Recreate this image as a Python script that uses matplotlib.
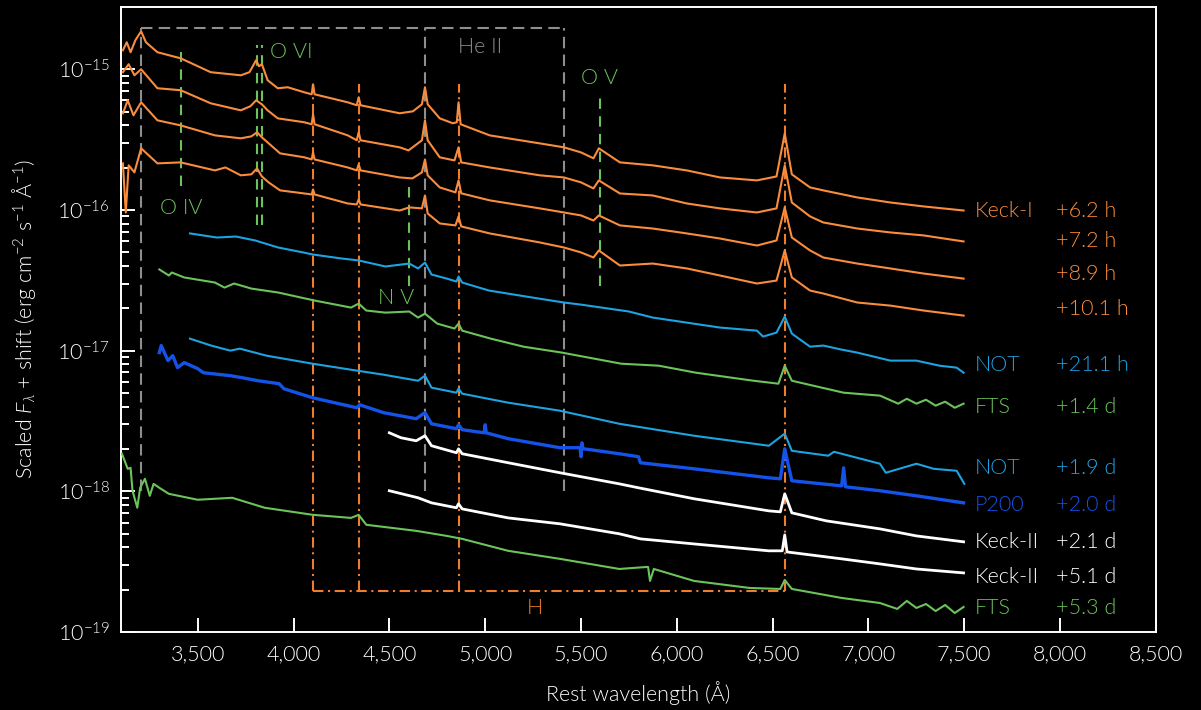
import numpy as np
import matplotlib
matplotlib.use("Agg")
import matplotlib.pyplot as plt
from matplotlib.ticker import FixedLocator, FuncFormatter, NullFormatter

plt.rcParams['font.family'] = ['Lato', 'DejaVu Sans']
plt.rcParams['font.weight'] = 300
plt.rcParams['axes.labelweight'] = 300
plt.rcParams['mathtext.fontset'] = 'custom'
plt.rcParams['mathtext.rm'] = 'Lato:weight=300'
plt.rcParams['mathtext.it'] = 'Lato:italic:weight=300'
plt.rcParams['mathtext.bf'] = 'Lato:bold'

# ---------------- data (rest wavelength in Angstrom, log10 of scaled flux) ----------------
keck1_62h_wl = [3110, 3130, 3150, 3175, 3205, 3230, 3290, 3411, 3568, 3725, 3770, 3805, 3820, 3835, 3865,
                3918, 3970, 4057, 4095, 4102, 4110, 4283, 4330, 4340, 4350, 4554, 4623, 4670, 4686, 4700,
                4763, 4831, 4852, 4861, 4872, 5024, 5285, 5411, 5500, 5565, 5593, 5703, 5874, 6052, 6225,
                6418, 6520, 6563, 6600, 6695, 6764, 6941, 7114, 7287, 7496]
keck1_62h_logf = [-14.865, -14.808, -14.879, -14.794, -14.730, -14.808, -14.879, -14.922, -15.021, -15.043,
                  -15.021, -14.936, -14.979, -14.964, -15.078, -15.135, -15.128, -15.164, -15.178, -15.107,
                  -15.178, -15.235, -15.256, -15.199, -15.256, -15.313, -15.299, -15.249, -15.128, -15.249,
                  -15.349, -15.384, -15.377, -15.235, -15.391, -15.470, -15.527, -15.555, -15.591, -15.633,
                  -15.562, -15.662, -15.683, -15.719, -15.769, -15.790, -15.762, -15.456, -15.747, -15.840,
                  -15.861, -15.911, -15.947, -15.975, -16.004]

keck1_72h_wl = [3110, 3140, 3170, 3205, 3290, 3411, 3568, 3725, 3775, 3805, 3835, 3865, 3918, 4057, 4095,
                4102, 4110, 4283, 4330, 4340, 4350, 4554, 4600, 4670, 4686, 4700, 4763, 4840, 4861, 4875,
                5024, 5285, 5411, 5500, 5565, 5593, 5703, 5874, 6052, 6225, 6418, 6520, 6563, 6600, 6695,
                6764, 6941, 7114, 7287, 7496]
keck1_72h_logf = [-15.021, -14.964, -15.043, -15.000, -15.135, -15.149, -15.242, -15.292, -15.263, -15.221,
                  -15.249, -15.292, -15.349, -15.377, -15.391, -15.320, -15.391, -15.470, -15.505, -15.448,
                  -15.505, -15.555, -15.577, -15.505, -15.363, -15.505, -15.626, -15.648, -15.555, -15.662,
                  -15.698, -15.754, -15.769, -15.804, -15.847, -15.790, -15.883, -15.897, -15.954, -15.989,
                  -16.018, -15.989, -15.683, -15.947, -16.046, -16.089, -16.132, -16.160, -16.181, -16.224]

keck1_89h_wl = [3110, 3135, 3165, 3205, 3290, 3411, 3590, 3725, 3780, 3810, 3835, 3865, 3930, 4057, 4095,
                4102, 4110, 4283, 4330, 4340, 4350, 4554, 4620, 4670, 4686, 4700, 4763, 4845, 4861, 4875,
                5024, 5285, 5411, 5500, 5565, 5593, 5703, 5874, 6052, 6225, 6418, 6520, 6563, 6600, 6695,
                6764, 6941, 7114, 7287, 7496]
keck1_89h_logf = [-15.313, -15.221, -15.327, -15.235, -15.363, -15.399, -15.470, -15.491, -15.477, -15.448,
                  -15.484, -15.520, -15.598, -15.626, -15.641, -15.591, -15.641, -15.698, -15.719, -15.676,
                  -15.719, -15.769, -15.776, -15.733, -15.641, -15.754, -15.840, -15.875, -15.790, -15.882,
                  -15.932, -15.989, -16.018, -16.039, -16.075, -16.039, -16.110, -16.132, -16.167, -16.203,
                  -16.253, -16.217, -15.982, -16.196, -16.288, -16.338, -16.381, -16.416, -16.452, -16.488]

keck1_101h_wl = [3110, 3125, 3140, 3170, 3205, 3290, 3411, 3590, 3645, 3725, 3780, 3810, 3835, 3870, 3930,
                 4057, 4095, 4102, 4110, 4283, 4330, 4340, 4350, 4554, 4604, 4670, 4686, 4700, 4763, 4845,
                 4861, 4875, 5024, 5285, 5411, 5500, 5565, 5593, 5703, 5874, 6052, 6225, 6418, 6520, 6563,
                 6600, 6695, 6764, 6941, 7114, 7287, 7496]
keck1_101h_logf = [-15.669, -16.018, -15.683, -15.733, -15.562, -15.669, -15.662, -15.719, -15.698, -15.754,
                   -15.747, -15.705, -15.762, -15.804, -15.861, -15.883, -15.890, -15.854, -15.890, -15.954,
                   -15.961, -15.925, -15.961, -16.004, -15.982, -15.989, -15.897, -16.025, -16.096, -16.110,
                   -16.046, -16.117, -16.167, -16.231, -16.267, -16.302, -16.338, -16.288, -16.395, -16.381,
                   -16.416, -16.466, -16.523, -16.502, -16.288, -16.480, -16.573, -16.594, -16.658, -16.680,
                   -16.715, -16.751]

not_211h_wl = [3460, 3600, 3700, 3800, 3920, 4050, 4102, 4250, 4340, 4480, 4604, 4650, 4686, 4720, 4800,
               4850, 4861, 4880, 5020, 5280, 5411, 5500, 5750, 5874, 6052, 6225, 6418, 6450, 6520, 6563,
               6600, 6695, 6764, 6860, 6941, 7114, 7250, 7370, 7460, 7496]
not_211h_logf = [-16.167, -16.196, -16.189, -16.217, -16.267, -16.302, -16.317, -16.345, -16.359, -16.402,
                 -16.381, -16.416, -16.374, -16.459, -16.488, -16.509, -16.473, -16.516, -16.573, -16.630,
                 -16.658, -16.673, -16.722, -16.765, -16.801, -16.836, -16.858, -16.900, -16.872, -16.758,
                 -16.879, -16.972, -16.964, -16.993, -17.014, -17.071, -17.071, -17.107, -17.121, -17.157]

fts_14d_wl = [3300, 3350, 3365, 3430, 3590, 3640, 3690, 3780, 3920, 4110, 4300, 4340, 4380, 4480, 4604,
              4650, 4686, 4750, 4840, 4861, 4880, 5030, 5200, 5400, 5710, 5905, 6100, 6400, 6530, 6563,
              6600, 6870, 7060, 7155, 7200, 7250, 7300, 7350, 7400, 7450, 7496]
fts_14d_logf = [-16.423, -16.466, -16.445, -16.480, -16.516, -16.552, -16.523, -16.559, -16.587, -16.644,
                -16.694, -16.666, -16.715, -16.730, -16.722, -16.765, -16.737, -16.808, -16.843, -16.808,
                -16.858, -16.915, -16.972, -17.014, -17.093, -17.107, -17.157, -17.214, -17.235, -17.107,
                -17.214, -17.299, -17.320, -17.377, -17.342, -17.377, -17.349, -17.391, -17.363, -17.406,
                -17.377]

not_19d_wl = [3460, 3570, 3670, 3720, 3860, 4100, 4330, 4470, 4650, 4686, 4720, 4850, 4861, 4880, 5120,
              5390, 5700, 6090, 6480, 6563, 6600, 6790, 6820, 7060, 7090, 7250, 7340, 7460, 7500]
not_19d_logf = [-16.915, -16.964, -17.000, -16.986, -17.036, -17.093, -17.142, -17.171, -17.214, -17.178,
                -17.263, -17.299, -17.270, -17.306, -17.370, -17.427, -17.520, -17.605, -17.676, -17.590,
                -17.712, -17.747, -17.719, -17.804, -17.868, -17.804, -17.840, -17.854, -17.947]

p200_20d_wl = [3300, 3310, 3345, 3370, 3395, 3430, 3500, 3530, 3670, 3730, 3815, 3925, 3950, 4100, 4330,
               4345, 4470, 4640, 4686, 4720, 4850, 4861, 4880, 4995, 5000, 5005, 5120, 5390, 5495, 5500,
               5505, 5510, 5700, 5800, 5810, 6090, 6480, 6540, 6563, 6600, 6860, 6870, 6880, 7060, 7250,
               7496]
p200_20d_logf = [-17.014, -16.964, -17.071, -17.036, -17.121, -17.085, -17.128, -17.157, -17.178, -17.192,
                 -17.214, -17.235, -17.271, -17.335, -17.406, -17.385, -17.441, -17.484, -17.441, -17.520,
                 -17.555, -17.527, -17.562, -17.584, -17.527, -17.584, -17.626, -17.690, -17.690, -17.754,
                 -17.655, -17.697, -17.733, -17.754, -17.797, -17.840, -17.904, -17.911, -17.698, -17.925,
                 -17.961, -17.833, -17.968, -17.996, -18.032, -18.082]

keck2_21d_wl = [4500, 4560, 4640, 4686, 4720, 4850, 4861, 4880, 5120, 5390, 5700, 5800, 6090, 6480, 6540,
                6563, 6600, 6780, 7060, 7250, 7496]
keck2_21d_logf = [-17.584, -17.619, -17.641, -17.605, -17.676, -17.726, -17.698, -17.733, -17.797, -17.868,
                  -17.947, -17.975, -18.053, -18.139, -18.146, -18.018, -18.153, -18.210, -18.267, -18.317,
                  -18.359]

keck2_51d_wl = [4500, 4650, 4720, 4850, 4861, 4880, 5120, 5390, 5700, 5810, 6090, 6480, 6550, 6563, 6575,
                6860, 7060, 7250, 7496]
keck2_51d_logf = [-17.996, -18.046, -18.082, -18.117, -18.089, -18.125, -18.189, -18.231, -18.302, -18.338,
                  -18.374, -18.423, -18.423, -18.310, -18.431, -18.480, -18.516, -18.552, -18.580]

fts_53d_wl = [3105, 3135, 3150, 3160, 3185, 3200, 3225, 3250, 3270, 3300, 3350, 3500, 3680, 3850, 4100,
              4300, 4340, 4380, 4640, 4800, 4880, 5120, 5390, 5700, 5850, 5860, 5880, 6090, 6380, 6540,
              6563, 6600, 6860, 7060, 7150, 7200, 7250, 7300, 7350, 7400, 7450, 7496]
fts_53d_logf = [-17.733, -17.840, -17.833, -17.996, -18.117, -17.975, -17.911, -18.032, -17.947, -17.975,
                -18.018, -18.060, -18.046, -18.117, -18.167, -18.189, -18.167, -18.238, -18.281, -18.317,
                -18.338, -18.423, -18.480, -18.552, -18.537, -18.637, -18.552, -18.637, -18.687, -18.694,
                -18.630, -18.694, -18.758, -18.794, -18.836, -18.779, -18.829, -18.801, -18.851, -18.808,
                -18.865, -18.822]

instruments = ['Keck-I', '', '', '', 'NOT', 'FTS', 'NOT', 'P200', 'Keck-II', 'Keck-II', 'FTS']
epochs = ['+6.2 h', '+7.2 h', '+8.9 h', '+10.1 h', '+21.1 h', '+1.4 d', '+1.9 d', '+2.0 d', '+2.1 d',
          '+5.1 d', '+5.3 d']
label_flux = [9.9e-17, 5.97e-17, 3.48e-17, 1.99e-17, 7.9e-18, 3.99e-18, 1.47e-18, 8.0e-19, 4.38e-19,
              2.46e-19, 1.48e-19]

x_ticks = [3500, 4000, 4500, 5000, 5500, 6000, 6500, 7000, 7500, 8000, 8500]
y_ticks = [1e-19, 1e-18, 1e-17, 1e-16, 1e-15]

# line identifications (Angstrom)
heii_wl = [3203, 4686, 5411]
h_wl = [4102, 4340, 4861, 6563]
oiv_wl = 3411
ovi_wl = [3811, 3834]
nv_wl = 4604
ov_wl = 5597

# ---------------- styles ----------------
ORANGE = '#F98C3D'
HORANGE = '#F07D2C'
CYAN = '#1DA2E2'
GREEN = '#6CC35B'
BLUE = '#1552E8'
WHITE = '#FFFFFF'
GRAY = '#8E8E8E'
FS = 15.5

series = [
    (keck1_62h_wl, keck1_62h_logf, ORANGE, 1.5),
    (keck1_72h_wl, keck1_72h_logf, ORANGE, 1.5),
    (keck1_89h_wl, keck1_89h_logf, ORANGE, 1.5),
    (keck1_101h_wl, keck1_101h_logf, ORANGE, 1.5),
    (not_211h_wl, not_211h_logf, CYAN, 1.5),
    (fts_14d_wl, fts_14d_logf, GREEN, 1.5),
    (not_19d_wl, not_19d_logf, CYAN, 1.5),
    (p200_20d_wl, p200_20d_logf, BLUE, 2.4),
    (keck2_21d_wl, keck2_21d_logf, WHITE, 2.0),
    (keck2_51d_wl, keck2_51d_logf, WHITE, 2.0),
    (fts_53d_wl, fts_53d_logf, GREEN, 1.5),
]
label_colors = [ORANGE] * 4 + [CYAN, GREEN, CYAN, BLUE, WHITE, WHITE, GREEN]

fig = plt.figure(figsize=(12.01, 7.10), dpi=100, facecolor='black')
ax = fig.add_axes([121 / 1201, 1 - 632 / 710, (1156 - 121) / 1201, (632 - 7) / 710])
ax.set_facecolor('black')
ax.set_yscale('log')
ax.set_xlim(3100, 8500)
ax.set_ylim(1e-19, 2.77e-15)

for wl, lf, c, lw in series:
    ax.plot(wl, 10 ** np.asarray(lf), color=c, lw=lw, solid_joinstyle='round', zorder=3)

# He II box (gray dashed)
gdash = (0, (5.5, 3.0))
ytop_he, ybot_he = 1.96e-15, 1.0e-18
for w in heii_wl:
    ax.plot([w, w], [ybot_he, ytop_he], color=GRAY, lw=1.5, ls=gdash, zorder=2)
ax.plot([heii_wl[0], heii_wl[-1]], [ytop_he, ytop_he], color=GRAY, lw=1.5, ls=gdash, zorder=2)
ax.text(4972, 1.44e-15, 'He II', color=GRAY, fontsize=FS, ha='center', va='center')

# Hydrogen (orange dash-dot)
hdash = (0, (5, 2.2, 1, 2.2))
ytop_h, ybot_h = 7.8e-16, 1.96e-19
for w in h_wl:
    ax.plot([w, w], [ybot_h, ytop_h], color=HORANGE, lw=1.5, ls=hdash, zorder=2)
ax.plot([h_wl[0], h_wl[-1]], [ybot_h, ybot_h], color=HORANGE, lw=1.5, ls=hdash, zorder=2)
ax.text(5259, 1.48e-19, 'H', color=HORANGE, fontsize=FS, ha='center', va='center')

# Oxygen / nitrogen (green dashed)
gr = (0, (5, 3.5))
ax.plot([oiv_wl, oiv_wl], [1.49e-16, 1.32e-15], color=GREEN, lw=1.5, ls=gr, zorder=2)
ax.text(3416, 1.04e-16, 'O IV', color=GREEN, fontsize=FS, ha='center', va='center')
for w in ovi_wl:
    ax.plot([w, w], [7.8e-17, 1.48e-15], color=GREEN, lw=1.5, ls=gr, zorder=2)
ax.text(3990, 1.32e-15, 'O VI', color=GREEN, fontsize=FS, ha='center', va='center')
ax.plot([nv_wl, nv_wl], [2.9e-17, 1.47e-16], color=GREEN, lw=1.5, ls=gr, zorder=2)
ax.text(4534, 2.38e-17, 'N V', color=GREEN, fontsize=FS, ha='center', va='center')
ax.plot([ov_wl, ov_wl], [2.9e-17, 6.4e-16], color=GREEN, lw=1.5, ls=gr, zorder=2)
ax.text(5598, 8.6e-16, 'O V', color=GREEN, fontsize=FS, ha='center', va='center')

# labels on the right
for inst, ep, yv, c in zip(instruments, epochs, label_flux, label_colors):
    if inst:
        ax.text(7556, yv, inst, color=c, fontsize=FS, ha='left', va='center')
    ax.text(7979, yv, ep, color=c, fontsize=FS, ha='left', va='center')

# axes styling
for s in ax.spines.values():
    s.set_color('white')
    s.set_linewidth(1.4)
ax.xaxis.set_major_locator(FixedLocator(x_ticks))
ax.xaxis.set_major_formatter(FuncFormatter(lambda v, p: '{:,.0f}'.format(v)))
ax.yaxis.set_major_locator(FixedLocator(y_ticks))
minor = [m * 10.0 ** e for e in range(-19, -15) for m in range(2, 10)]
ax.yaxis.set_minor_locator(FixedLocator(minor))
ax.yaxis.set_minor_formatter(NullFormatter())
ax.yaxis.set_major_formatter(FuncFormatter(lambda v, p: r'$10^{%d}$' % int(round(np.log10(v)))))
ax.tick_params(axis='both', which='both', direction='in', colors='white', top=False, right=False,
               labelsize=FS)
ax.tick_params(axis='x', which='major', length=10, width=1.4, pad=9)
ax.tick_params(axis='y', which='major', length=10, width=1.4, pad=8)
ax.tick_params(axis='y', which='minor', length=6, width=1.4)

ax.set_xlabel('Rest wavelength (Å)', color='white', fontsize=FS, labelpad=12)
ax.set_ylabel(r'Scaled $F_{\lambda}$ + shift (erg cm$^{-2}$ s$^{-1}$ Å$^{-1}$)', color='white', fontsize=FS)
ax.yaxis.set_label_coords(-0.080, 0.5)

fig.savefig('out.png', dpi=100, facecolor='black')
